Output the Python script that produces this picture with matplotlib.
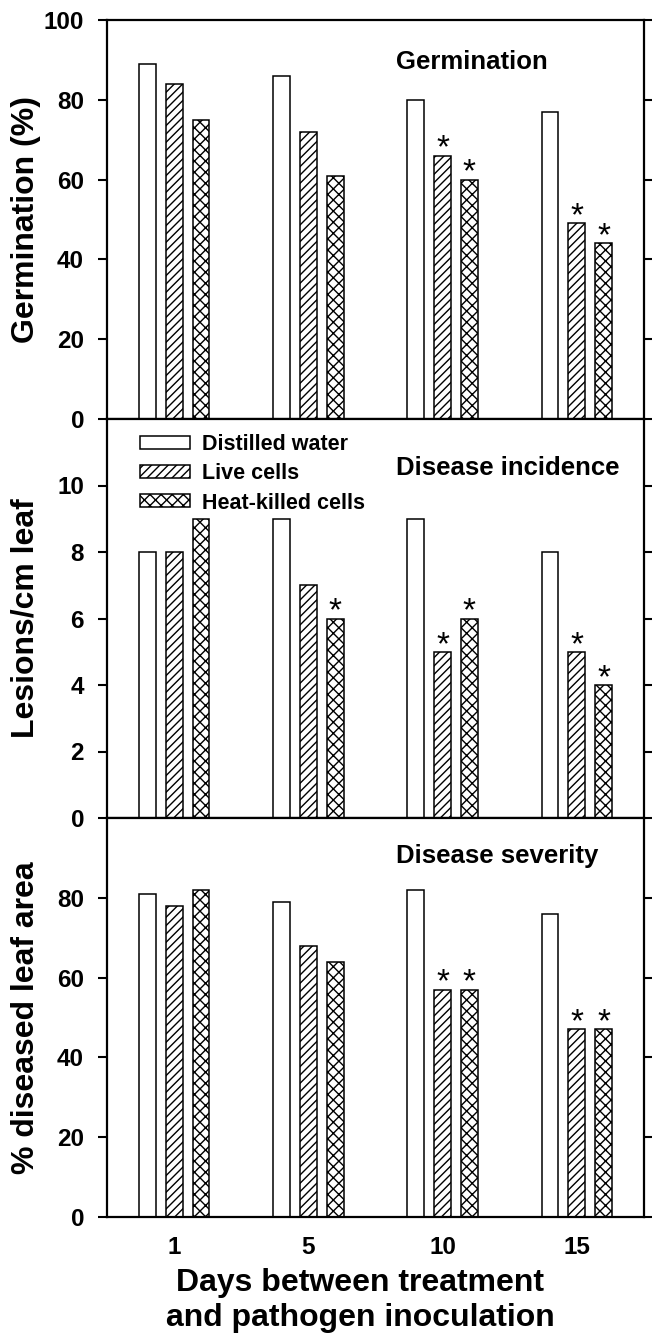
import numpy as np
import matplotlib.pyplot as plt

plt.rcParams['font.family'] = ['Liberation Sans', 'DejaVu Sans']
plt.rcParams['font.weight'] = 'bold'
plt.rcParams['hatch.linewidth'] = 1.0

# data
days = ['1', '5', '10', '15']
treatments = ['Distilled water', 'Live cells', 'Heat-killed cells']
hatches = ['', '////', 'xxx']

germ_water = [89, 86, 80, 77]
germ_live = [84, 72, 66, 49]
germ_heat = [75, 61, 60, 44]

les_water = [8, 9, 9, 8]
les_live = [8, 7, 5, 5]
les_heat = [9, 6, 6, 4]

sev_water = [81, 79, 82, 76]
sev_live = [78, 68, 57, 47]
sev_heat = [82, 64, 57, 47]

# asterisks: significant vs distilled water
germ_star = [[0, 0, 0, 0], [0, 0, 1, 1], [0, 0, 1, 1]]
les_star = [[0, 0, 0, 0], [0, 0, 1, 1], [0, 1, 1, 1]]
sev_star = [[0, 0, 0, 0], [0, 0, 1, 1], [0, 0, 1, 1]]

panels = [
    ('Germination', 'Germination (%)', [germ_water, germ_live, germ_heat], germ_star,
     100, [0, 20, 40, 60, 80, 100]),
    ('Disease incidence', 'Lesions/cm leaf', [les_water, les_live, les_heat], les_star,
     12, [0, 2, 4, 6, 8, 10]),
    ('Disease severity', '% diseased leaf area', [sev_water, sev_live, sev_heat], sev_star,
     100, [0, 20, 40, 60, 80]),
]

W, H = 652, 1333
fig = plt.figure(figsize=(W / 100, H / 100), dpi=100)

left = 107 / W
width = 537 / W
height = 399 / H
bottoms = [419, 818, 1217]   # pixel row of each panel's zero line

x = np.arange(len(days))
offsets = [-0.2, 0.0, 0.2]
bw = 0.125

title_y = [0.877, 0.860, 0.887]
axes = []
for k, (title, ylab, series, stars, ymax, yt) in enumerate(panels):
    ax = fig.add_axes([left, (H - bottoms[k]) / H, width, height])
    axes.append(ax)
    for j in range(3):
        bars = ax.bar(x + offsets[j], series[j], bw, color='white', edgecolor='black',
                      linewidth=1.1, hatch=hatches[j], label=treatments[j])
        for i in range(len(days)):
            if stars[j][i]:
                ax.annotate('*', (x[i] + offsets[j], series[j][i]), xytext=(0, -1.5),
                            textcoords='offset points', ha='center', va='baseline',
                            fontsize=24, fontweight='normal')
    ax.set_xlim(-0.5, 3.5)
    ax.set_ylim(0, ymax)
    ax.set_yticks(yt)
    ax.set_xticks(x)
    ax.tick_params(axis='y', direction='out', length=6.5, width=1.5, labelsize=17.5,
                   pad=10, right=True)
    ax.tick_params(axis='x', length=0, labelsize=17.5, pad=14)
    if k < 2:
        ax.set_xticklabels([])
    else:
        ax.set_xticklabels(days)
    for s in ax.spines.values():
        s.set_linewidth(1.6)
    ax.text(0.538, title_y[k], title, transform=ax.transAxes, ha='left', va='baseline',
            fontsize=18.5)
    ymid = (bottoms[k] - 199.5)
    fig.text(26 / W, 1 - ymid / H, ylab, rotation=90, ha='center', va='center',
             fontsize=23)

leg = axes[1].legend(loc='upper left', bbox_to_anchor=(0.0615, 0.962), frameon=False,
                     borderpad=0, borderaxespad=0, fontsize=15.5, handlelength=2.3,
                     handleheight=0.55, handletextpad=0.6, labelspacing=0.38)

fig.text(360 / W, 1 - 1268 / H, 'Days between treatment\nand pathogen inoculation',
         ha='center', va='top', fontsize=23, linespacing=1.2)

fig.savefig('out.png', dpi=100)
